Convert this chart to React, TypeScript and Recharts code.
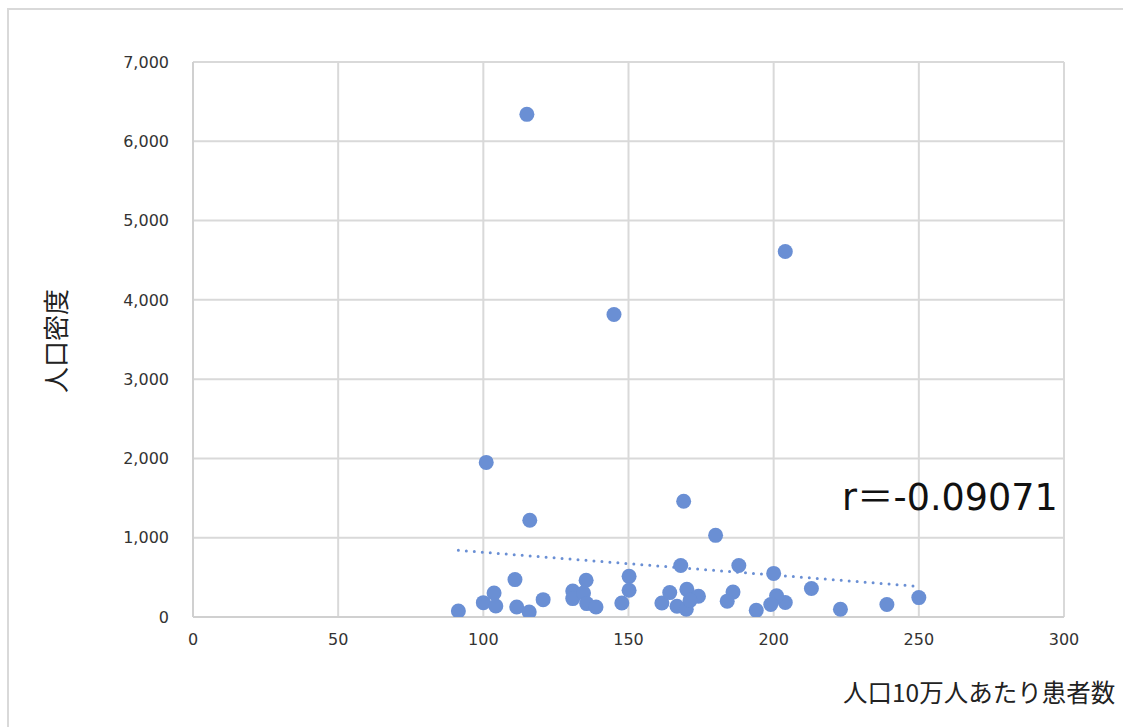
import { ScatterChart, Scatter, XAxis, YAxis, CartesianGrid } from "recharts"

// 人口10万人あたり患者数
const patientsPer100k = [
  115, 204, 145, 101, 116, 169, 180, 168, 188, 200, 213, 250, 239, 223, 204,
  201, 199, 194, 186, 184, 91.4, 100, 103.7, 104.3, 110.9, 111.5, 115.8, 120.6,
  130.8, 130.8, 135.4, 134.5, 135.6, 138.8, 147.7, 150.2, 150.2, 161.5, 164.2,
  166.7, 169.9, 170.1, 174.1, 171.2,
]

// 人口密度
const density = [
  6340, 4610, 3815, 1950, 1220, 1460, 1030, 650, 650, 550, 360, 245, 158, 97, 183,
  267, 158, 84, 314, 200, 76, 181, 303, 139, 472, 126, 63, 219, 328, 232, 463,
  303, 169, 126, 177, 513, 337, 177, 308, 135, 97, 349, 261, 210,
]

// trendline end points
const trendX = [91.4, 250.2]
const trendY = [841, 386]

const xTicks = [0, 50, 100, 150, 200, 250, 300]
const yTicks = [0, 1000, 2000, 3000, 4000, 5000, 6000, 7000]

const points = patientsPer100k.map((x, i) => ({ x, y: density[i] }))
const trend = trendX.map((x, i) => ({ x, y: trendY[i] }))

const blue = "#6a8fd4"
const tickStyle = { fontSize: 16, fill: "#333", fontFamily: "DejaVu Sans, Verdana, sans-serif" }

export default function App() {
  return (
    <div
      style={{
        position: "fixed",
        left: 0,
        top: 0,
        width: 1123,
        height: 727,
        overflow: "hidden",
        background: "#fff",
        fontFamily: "'Noto Sans CJK JP', 'DejaVu Sans', sans-serif",
      }}
    >
      <div
        style={{
          position: "absolute",
          left: 7,
          top: 8,
          width: 1130,
          height: 730,
          borderLeft: "2px solid #d9d9d9",
          borderTop: "2px solid #d9d9d9",
        }}
      />
      <div style={{ position: "absolute", left: 0, top: 0 }}>
        <ScatterChart
          width={1123}
          height={727}
          margin={{ top: 62, right: 59, left: 0, bottom: 70 }}
        >
          <CartesianGrid stroke="#d9d9d9" strokeWidth={2} />
          <XAxis
            type="number"
            dataKey="x"
            domain={[0, 300]}
            ticks={xTicks}
            height={40}
            tickLine={false}
            tickSize={0}
            tickMargin={17}
            axisLine={{ stroke: "#d0d0d0", strokeWidth: 2 }}
            tick={tickStyle}
            allowDataOverflow
          />
          <YAxis
            type="number"
            dataKey="y"
            domain={[0, 7000]}
            ticks={yTicks}
            width={193}
            tickLine={false}
            tickSize={0}
            tickMargin={24}
            axisLine={{ stroke: "#d0d0d0", strokeWidth: 2 }}
            tick={tickStyle}
            tickFormatter={(v: number) => v.toLocaleString("en-US")}
            allowDataOverflow
          />
          <Scatter
            data={trend}
            isAnimationActive={false}
            line={{
              stroke: blue,
              strokeWidth: 3,
              strokeDasharray: "0 8",
              strokeLinecap: "round",
            }}
            shape={() => <g />}
          />
          <Scatter
            data={points}
            fill={blue}
            isAnimationActive={false}
            shape={(p: any) => <circle cx={p.cx} cy={p.cy} r={7.5} fill={blue} />}
          />
        </ScatterChart>
      </div>
      <div
        style={{
          position: "absolute",
          left: 54,
          top: 341,
          transform: "translate(-50%, -50%) rotate(-90deg)",
          fontSize: 26,
          whiteSpace: "nowrap",
          color: "#222",
        }}
      >
        人口密度
      </div>
      <div
        style={{
          position: "absolute",
          left: 843,
          top: 675,
          fontSize: 24.5,
          lineHeight: "34px",
          whiteSpace: "nowrap",
          color: "#222",
        }}
      >
        人口10万人あたり患者数
      </div>
      <div
        style={{
          position: "absolute",
          left: 842,
          top: 480,
          fontSize: 36.5,
          lineHeight: "36px",
          whiteSpace: "nowrap",
          color: "#111",
          fontFamily: "'DejaVu Sans', 'Noto Sans CJK JP', sans-serif",
        }}
      >
        r＝-0.09071
      </div>
    </div>
  )
}
